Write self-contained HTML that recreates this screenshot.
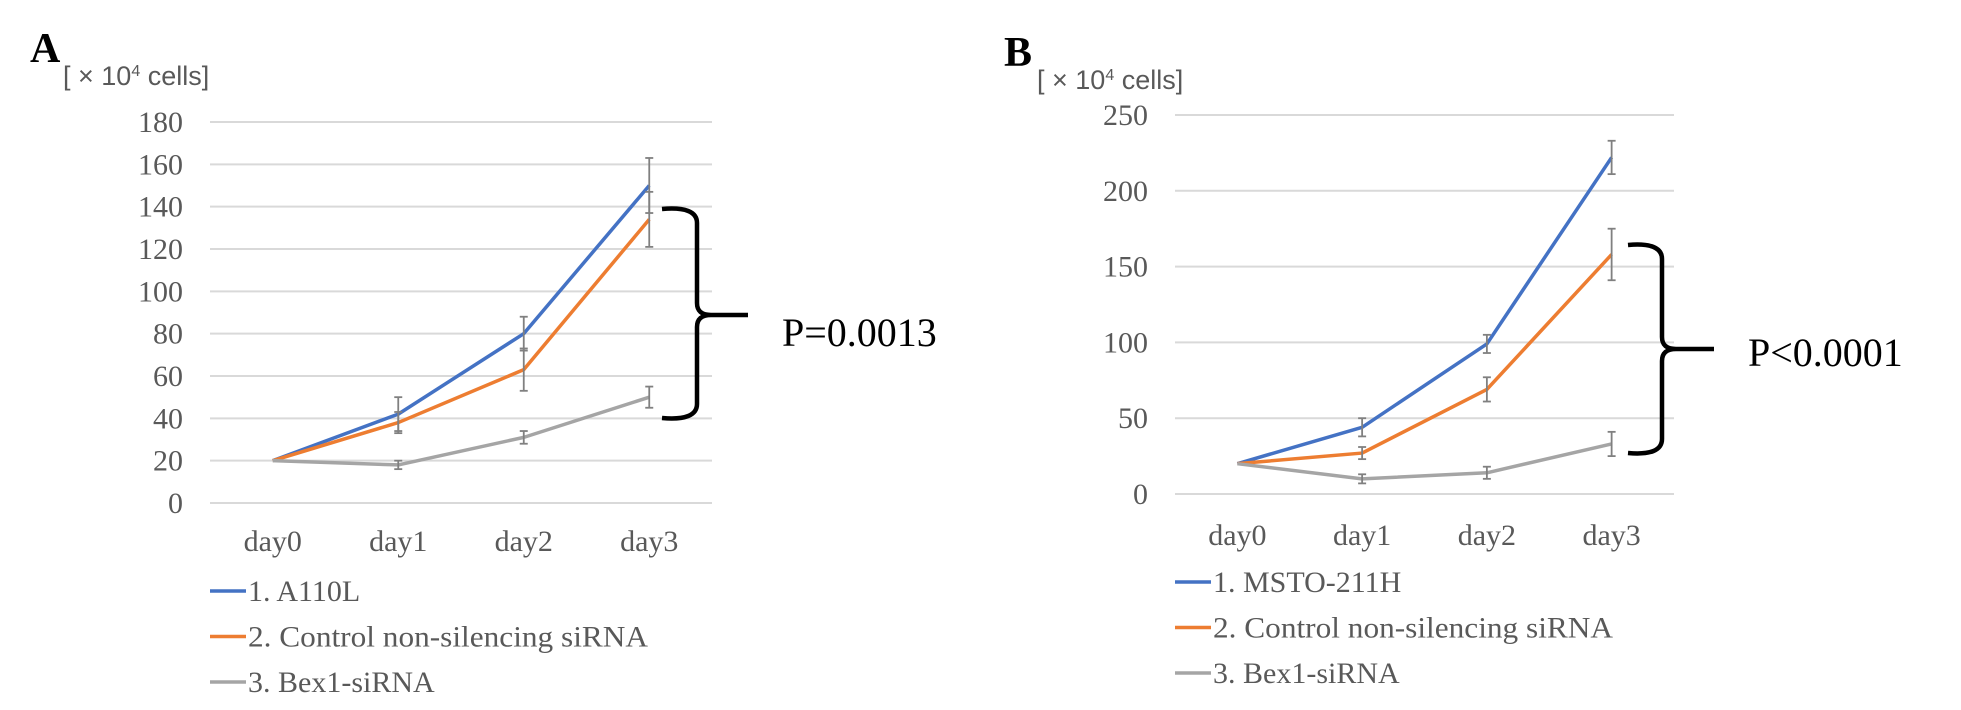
<!DOCTYPE html>
<html><head><meta charset="utf-8">
<style>
html,body{margin:0;padding:0;background:#fff;}
svg{display:block;}
</style></head>
<body>
<svg id="fig" width="1961" height="710" viewBox="0 0 1961 710" xmlns="http://www.w3.org/2000/svg"></svg>
<script>
const categories = ["day0","day1","day2","day3"];
const aTicks = [0,20,40,60,80,100,120,140,160,180];
const aBlue = [20,42,80,150];
const aBlueErr = [0,8,8,13];
const aOrange = [20,38,63,134];
const aOrangeErr = [0,5,10,13];
const aGray = [20,18,31,50];
const aGrayErr = [0,2,3,5];
const aLegend = ["1. A110L","2. Control non-silencing siRNA","3. Bex1-siRNA"];
const bTicks = [0,50,100,150,200,250];
const bBlue = [20,44,99,222];
const bBlueErr = [0,6,6,11];
const bOrange = [20,27,69,158];
const bOrangeErr = [0,4,8,17];
const bGray = [20,10,14,33];
const bGrayErr = [0,3,4,8];
const bLegend = ["1. MSTO-211H","2. Control non-silencing siRNA","3. Bex1-siRNA"];

const NS="http://www.w3.org/2000/svg";
const svg=document.getElementById('fig');
function el(tag,attrs,parent){const e=document.createElementNS(NS,tag);for(const k in attrs)e.setAttribute(k,attrs[k]);(parent||svg).appendChild(e);return e;}
const COLORS=["#4472C4","#ED7D31","#A5A5A5"];

function chart(cfg){
  const g=el('g',{});
  
  
  const maxV=cfg.ticks[cfg.ticks.length-1];
  const y=v=>cfg.y0-(v/maxV)*(cfg.y0-cfg.yTop);
  const bw=(cfg.x1-cfg.x0)/categories.length;
  const x=i=>cfg.x0+bw*(i+0.5);
  cfg.ticks.forEach(t=>{
    const l=el('line',{x1:cfg.x0,x2:cfg.x1,y1:y(t),y2:y(t),stroke:'#D9D9D9','stroke-width':2},g);
    
    
    const tx=el('text',{x:cfg.labelRight,y:y(t)+10,'text-anchor':'end','font-family':'"Liberation Serif",serif','font-size':30,fill:'#595959'},g);
    tx.textContent=t;
    
    
  });
  categories.forEach((c,i)=>{
    const tx=el('text',{x:x(i),y:cfg.xLabelY,'text-anchor':'middle','font-family':'"Liberation Serif",serif','font-size':30,fill:'#595959'},g);
    tx.textContent=c;
    
    
  });
  cfg.series.forEach((s,si)=>{
    const pts=s.v.map((v,i)=>x(i)+','+y(v)).join(' ');
    const pl=el('polyline',{points:pts,fill:'none',stroke:COLORS[si],'stroke-width':3.5,'stroke-linejoin':'round'},g);
    
    
  });
  cfg.series.forEach((s,si)=>{
    s.v.forEach((v,i)=>{
      const e=s.e[i]; if(!e) return;
      const eg=el('g',{stroke:'#808080','stroke-width':1.8},g);
      
      
      el('line',{x1:x(i),x2:x(i),y1:y(v-e),y2:y(v+e)},eg);
      el('line',{x1:x(i)-4,x2:x(i)+4,y1:y(v-e),y2:y(v-e)},eg);
      el('line',{x1:x(i)-4,x2:x(i)+4,y1:y(v+e),y2:y(v+e)},eg);
    });
  });
  cfg.legend.forEach((t,i)=>{
    const ly=cfg.legendY+i*45.5;
    const lg=el('g',{},g);
    
    
    el('line',{x1:cfg.x0,x2:cfg.x0+36,y1:ly,y2:ly,stroke:COLORS[i],'stroke-width':3.5},lg);
    const tx=el('text',{x:cfg.x0+38,y:ly+10,'font-family':'"Liberation Serif",serif','font-size':30,fill:'#595959'},lg);
    tx.textContent=t;
    if(i===1){tx.setAttribute('textLength',400);tx.setAttribute('lengthAdjust','spacingAndGlyphs');}
  });
  const L=el('text',{x:cfg.letterX,y:cfg.letterY,'font-family':'"Liberation Serif",serif','font-size':42,'font-weight':'bold',fill:'#000'},g);
  L.textContent=cfg.letter;
  
  
  const U=el('text',{x:cfg.letterX+33,y:cfg.letterY+23,'font-family':'"Liberation Sans",sans-serif','font-size':27,fill:'#595959'},g);
  U.innerHTML='[ × 10<tspan dy="-9" font-size="16">4</tspan><tspan dy="9"> cells]</tspan>';
  
  
  const b=cfg.br;
  const br=el('path',{d:`M${b.left},${b.top} Q${b.vx},${b.top-3} ${b.vx},${b.top+14} L${b.vx},${b.mid-12} Q${b.vx},${b.mid} ${b.vx+14},${b.mid} L${b.right},${b.mid} M${b.vx+14},${b.mid} Q${b.vx},${b.mid} ${b.vx},${b.mid+12} L${b.vx},${b.bot-14} Q${b.vx},${b.bot+3} ${b.left},${b.bot}`,fill:'none',stroke:'#000','stroke-width':4.5},g);
  
  
  const P=el('text',{x:b.textX,y:b.textY,'font-family':'"Liberation Serif",serif','font-size':40,fill:'#000'},g);
  P.textContent=b.label;
  
  
}

chart({name:'chart-a',x0:210,x1:712,y0:503,yTop:122,labelRight:183,ticks:aTicks,xLabelY:551,legendY:591,
  series:[{v:aBlue,e:aBlueErr},{v:aOrange,e:aOrangeErr},{v:aGray,e:aGrayErr}],legend:aLegend,
  letter:'A',letterX:30,letterY:62,
  br:{left:662,vx:697,top:209,bot:418,mid:315,right:748,textX:782,textY:346,label:'P=0.0013'}});
chart({name:'chart-b',x0:1175,x1:1674,y0:494,yTop:115,labelRight:1148,ticks:bTicks,xLabelY:545,legendY:582,
  series:[{v:bBlue,e:bBlueErr},{v:bOrange,e:bOrangeErr},{v:bGray,e:bGrayErr}],legend:bLegend,
  letter:'B',letterX:1004,letterY:66,
  br:{left:1628,vx:1662,top:245,bot:453,mid:349,right:1714,textX:1748,textY:366,label:'P<0.0001'}});
</script>
</body></html>
